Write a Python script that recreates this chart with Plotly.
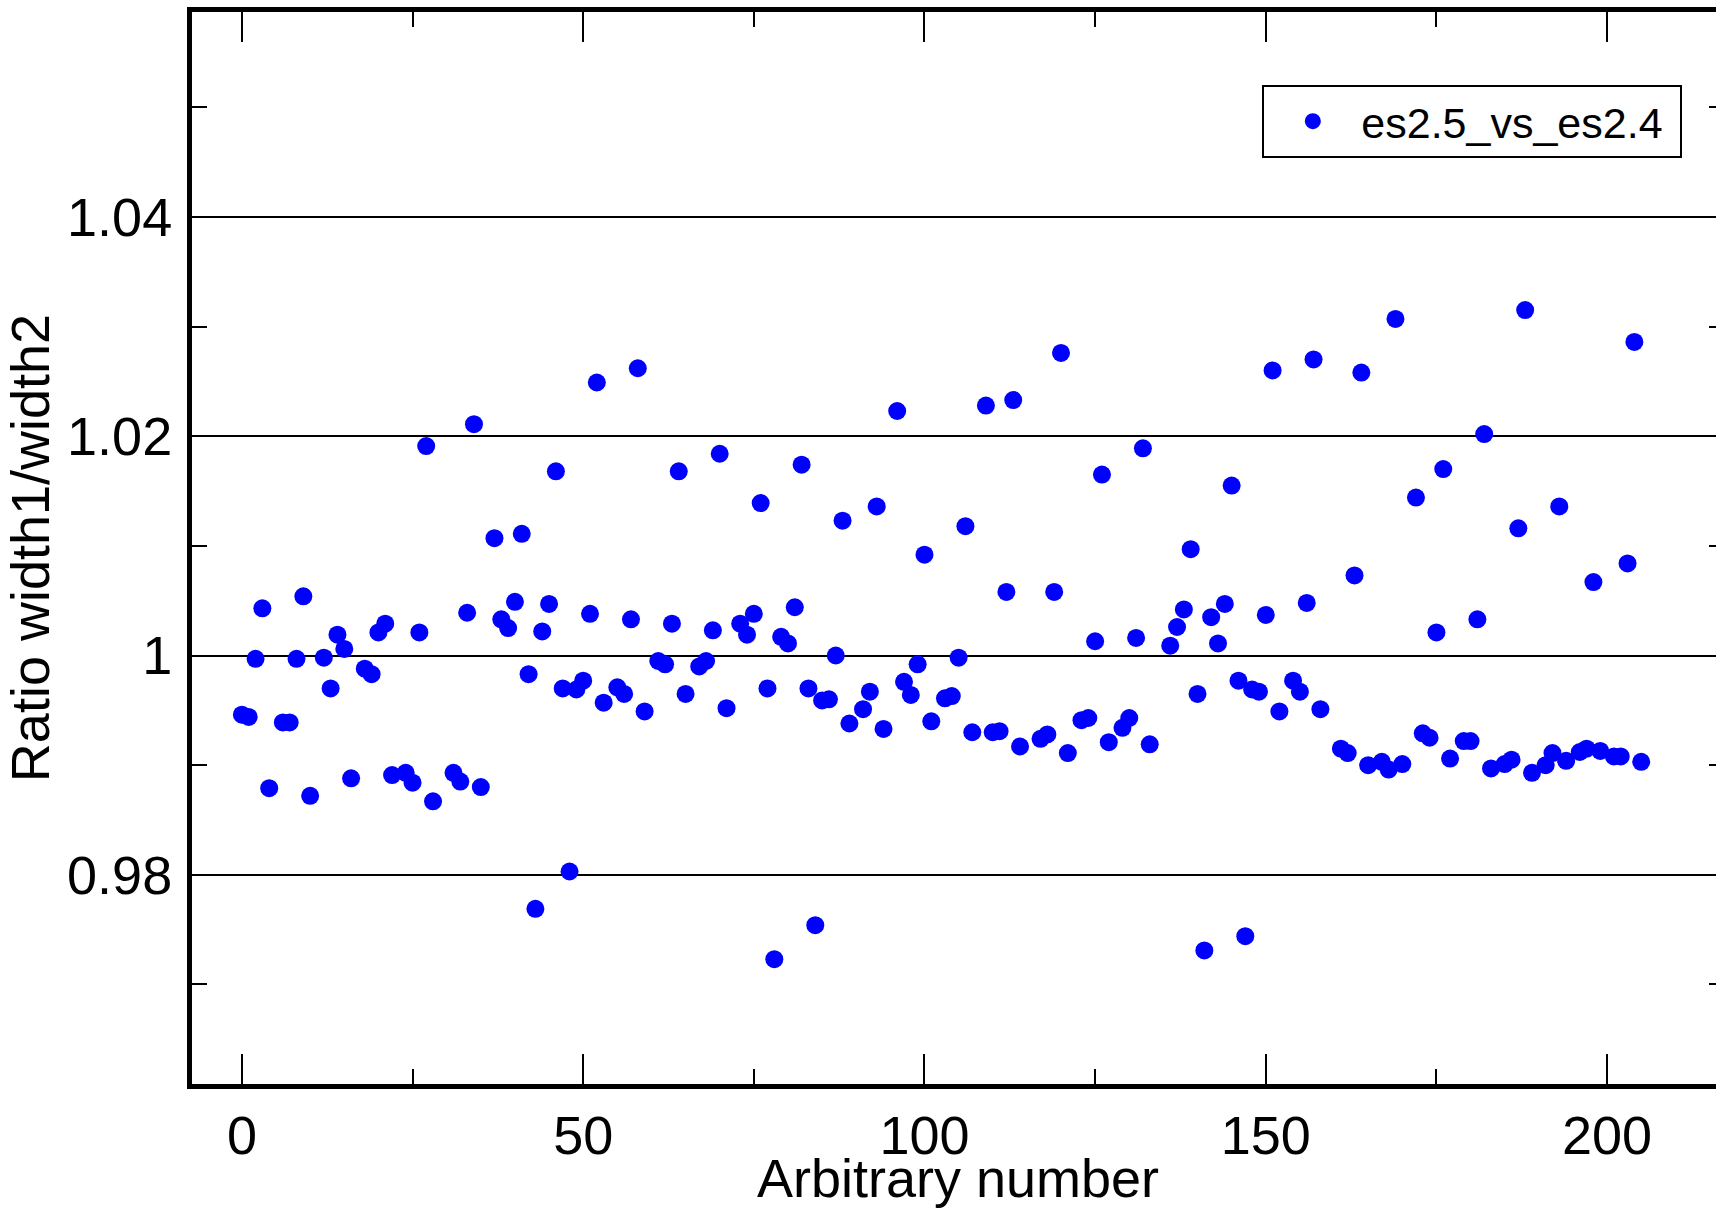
import plotly.graph_objects as go

# ---- data ----
arbitrary_number = [
    0, 1, 2, 3, 4, 6, 7, 8, 9, 10, 12, 13, 14, 15, 16, 18, 19, 20, 21, 22,
    24, 25, 26, 27, 28, 31, 32, 33, 34, 35, 37, 38, 39, 40, 41, 42, 43, 44, 45, 46,
    47, 48, 49, 50, 51, 52, 53, 55, 56, 57, 58, 59, 61, 62, 63, 64, 65, 67, 68, 69,
    70, 71, 73, 74, 75, 76, 77, 78, 79, 80, 81, 82, 83, 84, 85, 86, 87, 88, 89, 91,
    92, 93, 94, 96, 97, 98, 99, 100, 101, 103, 104, 105, 106, 107, 109, 110, 111, 112, 113, 114,
    117, 118, 119, 120, 121, 123, 124, 125, 126, 127, 129, 130, 131, 132, 133, 136, 137, 138, 139, 140,
    141, 142, 143, 144, 145, 146, 147, 148, 149, 150, 151, 152, 154, 155, 156, 157, 158, 161, 162, 163,
    164, 165, 167, 168, 169, 170, 172, 173, 174, 175, 176, 177, 179, 180, 181, 182, 183, 185, 186, 187,
    188, 189, 191, 192, 193, 194, 196, 197, 198, 199, 201, 202, 203, 204, 205,
]
ratio_width = [
    0.9946, 0.9944, 0.9997, 1.0043, 0.9879, 0.9939, 0.9939, 0.9997, 1.0054, 0.9872,
    0.9998, 0.9970, 1.0019, 1.0006, 0.9888, 0.9988, 0.9983, 1.0021, 1.0029, 0.9891,
    0.9893, 0.9884, 1.0021, 1.0191, 0.9867, 0.9893, 0.9885, 1.0039, 1.0211, 0.9880,
    1.0107, 1.0033, 1.0025, 1.0049, 1.0111, 0.9983, 0.9769, 1.0022, 1.0047, 1.0168,
    0.9970, 0.9803, 0.9969, 0.9977, 1.0038, 1.0249, 0.9957, 0.9971, 0.9965, 1.0033,
    1.0262, 0.9949, 0.9995, 0.9992, 1.0029, 1.0168, 0.9965, 0.9990, 0.9995, 1.0023,
    1.0184, 0.9952, 1.0029, 1.0019, 1.0038, 1.0139, 0.9970, 0.9723, 1.0017, 1.0011,
    1.0044, 1.0174, 0.9970, 0.9754, 0.9959, 0.9960, 1.0000, 1.0123, 0.9938, 0.9951,
    0.9967, 1.0136, 0.9933, 1.0223, 0.9976, 0.9964, 0.9992, 1.0092, 0.9940, 0.9961,
    0.9963, 0.9998, 1.0118, 0.9930, 1.0228, 0.9930, 0.9931, 1.0058, 1.0233, 0.9917,
    0.9924, 0.9928, 1.0058, 1.0276, 0.9911, 0.9941, 0.9943, 1.0013, 1.0165, 0.9921,
    0.9934, 0.9943, 1.0016, 1.0189, 0.9919, 1.0009, 1.0026, 1.0042, 1.0097, 0.9965,
    0.9731, 1.0035, 1.0011, 1.0047, 1.0155, 0.9977, 0.9744, 0.9969, 0.9967, 1.0037,
    1.0260, 0.9949, 0.9977, 0.9967, 1.0048, 1.0270, 0.9951, 0.9915, 0.9911, 1.0073,
    1.0258, 0.9900, 0.9903, 0.9896, 1.0307, 0.9901, 1.0144, 0.9929, 0.9925, 1.0021,
    1.0170, 0.9906, 0.9922, 0.9922, 1.0033, 1.0202, 0.9897, 0.9901, 0.9905, 1.0116,
    1.0315, 0.9893, 0.9900, 0.9911, 1.0136, 0.9904, 0.9912, 0.9915, 1.0067, 0.9913,
    0.9908, 0.9908, 1.0084, 1.0286, 0.9903,
]
series_name = "es2.5_vs_es2.4"

x_major_ticks = [0, 50, 100, 150, 200]
x_minor_ticks = [25, 75, 125, 175]
y_major_ticks = [0.98, 1.0, 1.02, 1.04]
y_major_labels = ["0.98", "1", "1.02", "1.04"]
y_minor_ticks = [0.97, 0.99, 1.01, 1.03, 1.05]

FONT = "Liberation Sans, Arial, Helvetica, sans-serif"

fig = go.Figure()
fig.add_trace(go.Scatter(
    x=arbitrary_number, y=ratio_width, mode="markers", name=series_name + "\u00a0",
    marker=dict(color="#0000ff", size=18, line=dict(width=0)),
    showlegend=True,
))

fig.update_layout(
    width=1726, height=1208,
    margin=dict(l=192, r=2, t=11.5, b=123.5, pad=0),
    paper_bgcolor="white", plot_bgcolor="white",
    font=dict(family=FONT, color="black"),
    legend=dict(
        x=0.9728, y=0.9322, xanchor="right", yanchor="top",
        bgcolor="white", bordercolor="black", borderwidth=2,
        font=dict(size=43, family=FONT, color="black"),
        itemwidth=87,
    ),
)

fig.update_xaxes(
    range=[-7.31, 217.13], automargin=False,
    showline=True, linewidth=5, linecolor="black", mirror="allticks",
    showgrid=False, zeroline=False,
    tickmode="array", tickvals=x_major_ticks,
    ticks="inside", ticklen=30, tickwidth=2, tickcolor="black",
    tickfont=dict(size=54, family=FONT, color="black"),
    ticklabelstandoff=0,
    minor=dict(tickmode="array", tickvals=x_minor_ticks, ticks="inside",
               ticklen=15, tickwidth=2, tickcolor="black", showgrid=False),
    title=dict(text="Arbitrary number", font=dict(size=54, family=FONT, color="black"),
               standoff=4),
)

fig.update_yaxes(
    range=[0.96092, 1.05869], automargin=False,
    showline=True, linewidth=5, linecolor="black", mirror="allticks",
    showgrid=True, gridcolor="black", gridwidth=2, zeroline=False,
    tickmode="array", tickvals=y_major_ticks, ticktext=y_major_labels,
    ticks="inside", ticklen=15, tickwidth=2, tickcolor="black",
    tickfont=dict(size=54, family=FONT, color="black"),
    ticklabelstandoff=4,
    minor=dict(tickmode="array", tickvals=y_minor_ticks, ticks="inside",
               ticklen=15, tickwidth=2, tickcolor="black", showgrid=False),
    title=dict(text="Ratio width1/width2", font=dict(size=54, family=FONT, color="black"),
               standoff=9),
)

fig.write_html(
    "out.html",
    post_script="document.documentElement.style.overflow='hidden';document.body.style.overflow='hidden';document.body.style.margin='0';",
)
